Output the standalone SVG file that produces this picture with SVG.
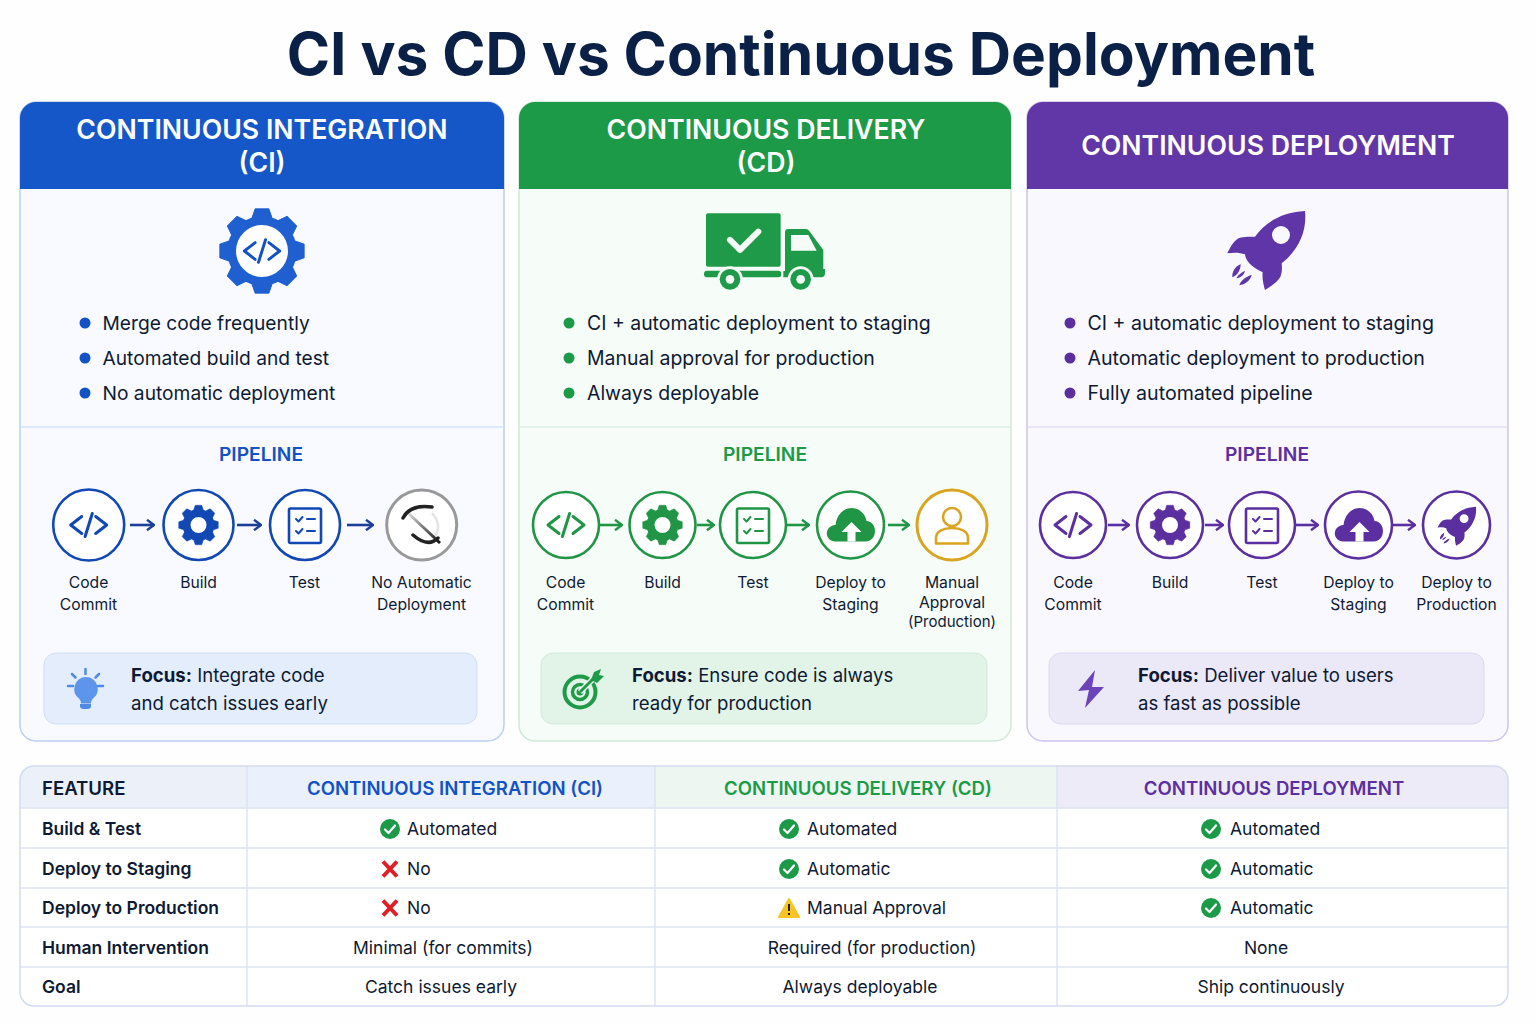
<svg xmlns="http://www.w3.org/2000/svg" width="1536" height="1024" viewBox="0 0 1536 1024">
<style>
text{font-family:Inter,"Liberation Sans",sans-serif;fill:#0e1a33}
.title{font-size:58.6px;font-weight:700;fill:#0b2046;text-anchor:middle}
.hd{font-size:26.7px;font-weight:600;fill:#fff;text-anchor:middle}
.bl1{font-size:19.2px}
.bl2{font-size:19.45px}
.bl3{font-size:19.6px}
.pl{font-size:19.2px;font-weight:600;text-anchor:middle}
.lb{font-size:15.7px;text-anchor:middle}
.fc{font-size:18.6px}
.fc tspan{font-weight:700}
.th{font-size:18.6px;font-weight:600}
.rh{font-size:17.5px;font-weight:600}
.td{font-size:17.5px}
.m{text-anchor:middle}
.ring{fill:#fff;stroke-width:2.6}
.blue{color:#1148b4}.green{color:#1f9545}.purple{color:#5b2f9f}
.ln{fill:none;stroke:currentColor;stroke-linecap:round;stroke-linejoin:round}
.cn line{stroke-width:2.6}
.rule{stroke:#dde3f0;stroke-width:1.5}
</style>
<defs>
<marker id="ab" viewBox="0 0 10 12" markerWidth="10" markerHeight="12" refX="9" refY="6" orient="auto" markerUnits="userSpaceOnUse"><path d="M2,0.8 L9,6 L2,11.2" fill="none" stroke="#1d3f9c" stroke-width="2.4"/></marker>
<marker id="ag" viewBox="0 0 10 12" markerWidth="10" markerHeight="12" refX="9" refY="6" orient="auto" markerUnits="userSpaceOnUse"><path d="M2,0.8 L9,6 L2,11.2" fill="none" stroke="#1f9545" stroke-width="2.4"/></marker>
<marker id="ap" viewBox="0 0 10 12" markerWidth="10" markerHeight="12" refX="9" refY="6" orient="auto" markerUnits="userSpaceOnUse"><path d="M2,0.8 L9,6 L2,11.2" fill="none" stroke="#5b2f9f" stroke-width="2.4"/></marker>
<g id="code" class="ln" stroke-width="3"><path d="M-7,-8.5 L-18,0 L-7,8.5 M7,-8.5 L18,0 L7,8.5 M3.6,-11.5 L-3.6,11.5"/></g>
<polygon id="tooth" points="-10.500,-33 -7,-43 7,-43 10.500,-33" fill="currentColor" stroke="currentColor" stroke-width="1" stroke-linejoin="round"/>
<g id="teeth"><use href="#tooth"/><use href="#tooth" transform="rotate(45)"/><use href="#tooth" transform="rotate(90)"/><use href="#tooth" transform="rotate(135)"/><use href="#tooth" transform="rotate(180)"/><use href="#tooth" transform="rotate(225)"/><use href="#tooth" transform="rotate(270)"/><use href="#tooth" transform="rotate(315)"/></g>
<g id="gearS"><use href="#teeth" transform="scale(.46)"/><circle r="12" fill="none" stroke="currentColor" stroke-width="8"/></g>
<g id="test"><rect x="-16" y="-16.5" width="32" height="34.500" rx="1.500" fill="none" stroke="currentColor" stroke-width="2.6"/><path class="ln" stroke-width="2" d="M-9,-6 L-6.500,-3.500 L-2.500,-8 M2,-6 H10 M-9,6 L-6.500,8.500 L-2.500,4 M2,6 H10"/></g>
<g id="cloud"><path fill="currentColor" d="M-15,16.500 C-26,16.500 -27,1 -15,0 C-14,-10 -7,-17 1,-17 C9,-17 15,-11 16,-4 C27,-4 28,16.500 15,16.500 Z"/><path fill="#fff" d="M1,-3 L11,7 H5 V16.500 H-3 V7 H-9 Z"/></g>
<g id="rocket"><path fill="currentColor" fill-rule="evenodd" d="M315,48 C240,52 195,85 165,125 C145,125 125,125 113,131 C98,142 90,158 82,175 C100,172 120,172 135,178 C137,195 150,215 188,232 C186,250 190,268 195,285 C215,272 238,258 243,240 C247,228 246,215 245,205 C290,170 322,115 315,48 Z M270,120 A27,27 0 1 0 216,120 A27,27 0 1 0 270,120 Z"/><g fill="currentColor"><path d="M122,208 C108,212 95,230 97,247 C110,242 122,228 122,208 Z M135,228 C124,232 112,242 110,250 C122,248 132,240 135,228 Z M155,240 C140,244 122,256 118,271 C135,268 150,258 155,240 Z"/></g></g>
<g id="ok"><circle r="10" fill="#1b9a48"/><path d="M-5,0.5 L-1.500,4 L5,-3.500" fill="none" stroke="#fff" stroke-width="2.2" stroke-linecap="round" stroke-linejoin="round"/></g>
<g id="no"><path d="M-7,-7.500 L7,7.500 M7,-7.500 L-7,7.500" stroke="#e01e26" stroke-width="4" fill="none"/></g>
<clipPath id="tc"><rect x="20" y="766" width="1488" height="240" rx="14"/></clipPath>
<linearGradient id="sl" x1="0" y1="0" x2="1" y2="1"><stop offset="0" stop-color="#ddd"/><stop offset="1" stop-color="#111"/></linearGradient>
</defs>
<rect width="1536" height="1024" fill="#fefefe"/>
<text id="title" class="title" x="801" y="75">CI vs CD vs Continuous Deployment</text>

<g id="panel-ci">
<rect x="20" y="102" width="484" height="639" rx="16" fill="#f8faff" stroke="#bccff1" stroke-width="1.500"/>
<path d="M20,189 V118 a16,16 0 0 1 16,-16 H488 a16,16 0 0 1 16,16 V189 Z" fill="#1557c8"/>
<text class="hd" x="262" y="139">CONTINUOUS INTEGRATION</text><text class="hd" x="262" y="172">(CI)</text>
<g style="color:#1f5fd0" transform="translate(262,251) scale(.98)"><use href="#teeth"/><circle r="31" fill="#fff" stroke="currentColor" stroke-width="9"/><use href="#code" style="color:#1252c4"/></g>
<g fill="#1252c4"><circle cx="85" cy="323" r="5.500"/><circle cx="85" cy="358" r="5.500"/><circle cx="85" cy="393" r="5.500"/></g>
<text class="bl1" x="102.500" y="330">Merge code frequently</text><text class="bl1" x="102.500" y="365">Automated build and test</text><text class="bl1" x="102.500" y="400">No automatic deployment</text>
<line x1="21" y1="427" x2="503" y2="427" stroke="#d5e2f6" stroke-width="1.500"/>
<text class="pl" x="261" y="461" style="fill:#1252c4">PIPELINE</text>
<rect x="44" y="653" width="433" height="71" rx="12" fill="#e3edfc" stroke="#cfdff7"/>
<g stroke="#4f8ae6" stroke-width="2.500" stroke-linecap="round"><path d="M85.500,669 V674 M72,674 L75.500,677.500 M99,674 L95.500,677.500 M68,686 H73 M98,686 H103"/></g>
<path d="M86,677 a12,12 0 0 1 7,21.500 q-2,2 -2,5 h-10 q0,-3 -2,-5 a12,12 0 0 1 7,-21.500 Z" fill="#5d95ea"/><path d="M80,704 h11 v3 q-1,2 -3,2 h-5 q-2,0 -3,-2 Z" fill="#4f8ae6"/>
<text class="fc" x="131" y="682"><tspan>Focus:</tspan> Integrate code</text><text class="fc" x="131" y="710">and catch issues early</text>
</g>

<g id="panel-cd">
<rect x="519" y="102" width="492" height="639" rx="16" fill="#f6fcf8" stroke="#cfe9d7" stroke-width="1.500"/>
<path d="M519,189 V118 a16,16 0 0 1 16,-16 H995 a16,16 0 0 1 16,16 V189 Z" fill="#1c9a47"/>
<text class="hd" x="766" y="139">CONTINUOUS DELIVERY</text><text class="hd" x="766" y="172">(CD)</text>
<g transform="translate(680,195) scale(.3333)">
<rect x="78" y="55" width="224" height="160" rx="6" fill="#1f9a49"/>
<path d="M150,135 L180,165 L235,110" fill="none" stroke="#f5fcf7" stroke-width="18" stroke-linecap="round" stroke-linejoin="round"/>
<path d="M315,112 q0,-10 10,-10 H378 q6,0 10,6 L430,165 V222 H435 V235 q0,12 -12,12 H310 V228 H315 Z" fill="#1f9a49"/>
<path d="M333,120 H385 L410,167 H333 Z" fill="#f5fcf7"/>
<rect x="72" y="227" width="232" height="20" rx="9" fill="#1f9a49"/>
<circle cx="150" cy="253" r="39" fill="#f5fcf7"/><circle cx="150" cy="253" r="31" fill="#1f9a49"/><circle cx="150" cy="253" r="13" fill="#f5fcf7"/>
<circle cx="362" cy="253" r="39" fill="#f5fcf7"/><circle cx="362" cy="253" r="31" fill="#1f9a49"/><circle cx="362" cy="253" r="13" fill="#f5fcf7"/>
</g>
<g fill="#1c9a47"><circle cx="569" cy="323" r="5.500"/><circle cx="569" cy="358" r="5.500"/><circle cx="569" cy="393" r="5.500"/></g>
<text class="bl2" x="587" y="330">CI + automatic deployment to staging</text><text class="bl2" x="587" y="365">Manual approval for production</text><text class="bl2" x="587" y="400">Always deployable</text>
<line x1="520" y1="427" x2="1010" y2="427" stroke="#dcefe2" stroke-width="1.500"/>
<text class="pl" x="765" y="461" style="fill:#1c9a47">PIPELINE</text>
<rect x="541" y="653" width="446" height="71" rx="12" fill="#e2f4e8" stroke="#d0ebd9"/>
<g fill="none" stroke="#1f9a49"><circle cx="580" cy="692" r="15.500" stroke-width="4"/><circle cx="580" cy="692" r="7.500" stroke-width="3.500"/></g><circle cx="580" cy="692" r="3.500" fill="#1f9a49"/>
<path d="M580,692 L598,674" stroke="#f0f9f2" stroke-width="6"/><path d="M580,692 L598,674" stroke="#1f9a49" stroke-width="3"/><path d="M594,672 L601,669 L599,675 L604,676 L597,683 L591,680 Z" fill="#1f9a49"/>
<text class="fc" x="632" y="682"><tspan>Focus:</tspan> Ensure code is always</text><text class="fc" x="632" y="710">ready for production</text>
</g>

<g id="panel-deploy">
<rect x="1027" y="102" width="481" height="639" rx="16" fill="#faf8ff" stroke="#cfc4ea" stroke-width="1.500"/>
<path d="M1027,189 V118 a16,16 0 0 1 16,-16 H1492 a16,16 0 0 1 16,16 V189 Z" fill="#6136a6"/>
<text class="hd" x="1268" y="155">CONTINUOUS DEPLOYMENT</text>
<use href="#rocket" style="color:#5f35a8" transform="translate(1200,195) scale(.3333)"/>
<g fill="#5b2f9f"><circle cx="1070" cy="323" r="5.500"/><circle cx="1070" cy="358" r="5.500"/><circle cx="1070" cy="393" r="5.500"/></g>
<text class="bl3" x="1087.500" y="330">CI + automatic deployment to staging</text><text class="bl3" x="1087.500" y="365">Automatic deployment to production</text><text class="bl3" x="1087.500" y="400">Fully automated pipeline</text>
<line x1="1028" y1="427" x2="1507" y2="427" stroke="#e3deF3" stroke-width="1.500"/>
<text class="pl" x="1267" y="461" style="fill:#5b2f9f">PIPELINE</text>
<rect x="1049" y="653" width="435" height="71" rx="12" fill="#ebe8f8" stroke="#ddd8f2"/>
<path d="M1095,670 L1078,691 L1089,690 L1085,708 L1104,687 L1092,687 Z" fill="#6a44b8"/>
<text class="fc" x="1138" y="682"><tspan>Focus:</tspan> Deliver value to users</text><text class="fc" x="1138" y="710">as fast as possible</text>
</g>

<g id="connectors" class="cn">
<g stroke="#1d3f9c"><line x1="130" y1="525" x2="154" y2="525" marker-end="url(#ab)"/><line x1="237" y1="525" x2="261" y2="525" marker-end="url(#ab)"/><line x1="347" y1="525" x2="373" y2="525" marker-end="url(#ab)"/></g>
<g stroke="#1f9545"><line x1="600" y1="525" x2="622" y2="525" marker-end="url(#ag)"/><line x1="697" y1="525" x2="714" y2="525" marker-end="url(#ag)"/><line x1="787" y1="525" x2="809" y2="525" marker-end="url(#ag)"/><line x1="888" y1="525" x2="909" y2="525" marker-end="url(#ag)"/></g>
<g stroke="#5b2f9f"><line x1="1108" y1="525" x2="1129" y2="525" marker-end="url(#ap)"/><line x1="1205" y1="525" x2="1223" y2="525" marker-end="url(#ap)"/><line x1="1296" y1="525" x2="1318" y2="525" marker-end="url(#ap)"/><line x1="1393" y1="525" x2="1415" y2="525" marker-end="url(#ap)"/></g>
</g>

<g id="ci-commit" class="blue"><circle class="ring" cx="88.700" cy="525" r="35.500" stroke="currentColor"/><use href="#code" x="88.700" y="525"/><text class="lb" x="88.500" y="588">Code</text><text class="lb" x="88.500" y="610">Commit</text></g>
<g id="ci-build" class="blue"><circle class="ring" cx="198.500" cy="525" r="35" stroke="currentColor"/><use href="#gearS" x="198.500" y="525"/><text class="lb" x="198.500" y="588">Build</text></g>
<g id="ci-test" class="blue"><circle class="ring" cx="305" cy="525" r="35" stroke="currentColor"/><use href="#test" x="305" y="525"/><text class="lb" x="304.500" y="588">Test</text></g>
<g id="ci-none"><circle class="ring" cx="421.700" cy="525" r="35" stroke="#999" style="stroke-width:3"/><path d="M432,513 Q443,525 434,538" fill="none" stroke="#e4e4e4" stroke-width="2.500"/><path d="M408,513 L440,543" stroke="url(#sl)" stroke-width="3" fill="none"/><path d="M403,518 Q410,504 432,507 M438,538 Q428,548 413,535" fill="none" stroke="#222" stroke-width="3.500" stroke-linecap="round"/><text class="lb" x="421.500" y="588">No Automatic</text><text class="lb" x="421.500" y="610">Deployment</text></g>

<g id="cd-commit" class="green"><circle class="ring" cx="566" cy="525" r="33" stroke="currentColor"/><use href="#code" x="566" y="525"/><text class="lb" x="565.500" y="588">Code</text><text class="lb" x="565.500" y="610">Commit</text></g>
<g id="cd-build" class="green"><circle class="ring" cx="662.500" cy="525" r="33" stroke="currentColor"/><use href="#gearS" x="662.500" y="525"/><text class="lb" x="662.500" y="588">Build</text></g>
<g id="cd-test" class="green"><circle class="ring" cx="753" cy="525" r="33" stroke="currentColor"/><use href="#test" x="753" y="525"/><text class="lb" x="753" y="588">Test</text></g>
<g id="cd-staging" class="green"><circle class="ring" cx="850.500" cy="525" r="33.500" stroke="currentColor"/><use href="#cloud" x="850.500" y="525"/><text class="lb" x="850.500" y="588">Deploy to</text><text class="lb" x="850.500" y="610">Staging</text></g>
<g id="cd-approval"><circle class="ring" cx="952" cy="525" r="35" stroke="#d9a520" style="stroke-width:3"/><circle cx="952" cy="517" r="9" fill="none" stroke="#d9a520" stroke-width="2.600"/><path d="M936,543.500 V538 C936,531 944,528 952,528 C960,528 968,531 968,538 V543.500 Z" fill="none" stroke="#d9a520" stroke-width="2.600" stroke-linejoin="round"/><text class="lb" x="952" y="588">Manual</text><text class="lb" x="952" y="608">Approval</text><text class="lb" x="952" y="627" style="font-size:15px">(Production)</text></g>

<g id="dp-commit" class="purple"><circle class="ring" cx="1073" cy="525" r="33" stroke="currentColor"/><use href="#code" x="1073" y="525"/><text class="lb" x="1073" y="588">Code</text><text class="lb" x="1073" y="610">Commit</text></g>
<g id="dp-build" class="purple"><circle class="ring" cx="1170" cy="525" r="33" stroke="currentColor"/><use href="#gearS" x="1170" y="525"/><text class="lb" x="1170" y="588">Build</text></g>
<g id="dp-test" class="purple"><circle class="ring" cx="1262" cy="525" r="33" stroke="currentColor"/><use href="#test" x="1262" y="525"/><text class="lb" x="1262" y="588">Test</text></g>
<g id="dp-staging" class="purple"><circle class="ring" cx="1358.500" cy="525" r="33.500" stroke="currentColor"/><use href="#cloud" x="1358.500" y="525"/><text class="lb" x="1358.500" y="588">Deploy to</text><text class="lb" x="1358.500" y="610">Staging</text></g>
<g id="dp-prod" class="purple"><circle class="ring" cx="1456.500" cy="525" r="33.500" stroke="currentColor"/><use href="#rocket" transform="translate(1424,498.800) scale(.165)"/><text class="lb" x="1456.500" y="588">Deploy to</text><text class="lb" x="1456.500" y="610">Production</text></g>

<g id="table">
<rect x="20" y="766" width="1488" height="240" rx="14" fill="#fff"/>
<g clip-path="url(#tc)"><rect x="20" y="766" width="227" height="42" fill="#ebf0f9"/><rect x="247" y="766" width="408" height="42" fill="#eaf1fc"/><rect x="655" y="766" width="402" height="42" fill="#edf6f1"/><rect x="1057" y="766" width="451" height="42" fill="#eeebf8"/></g>
<g class="rule"><line x1="20" y1="848" x2="1508" y2="848"/><line x1="20" y1="888" x2="1508" y2="888"/><line x1="20" y1="927" x2="1508" y2="927"/><line x1="20" y1="967" x2="1508" y2="967"/><line x1="20" y1="808" x2="1508" y2="808"/><line x1="247" y1="766" x2="247" y2="1006"/><line x1="655" y1="766" x2="655" y2="1006"/><line x1="1057" y1="766" x2="1057" y2="1006"/></g>
<rect x="20" y="766" width="1488" height="240" rx="14" fill="none" stroke="#d3dcee" stroke-width="1.500"/>
<text class="th" x="42" y="795">FEATURE</text>
<text class="th m" x="455" y="795" style="fill:#1252c4">CONTINUOUS INTEGRATION (CI)</text>
<text class="th m" x="858" y="795" style="fill:#1c9a47">CONTINUOUS DELIVERY (CD)</text>
<text class="th m" x="1274" y="795" style="fill:#5b2f9f">CONTINUOUS DEPLOYMENT</text>
<text class="rh" x="42" y="835">Build &amp; Test</text><text class="rh" x="42" y="875">Deploy to Staging</text><text class="rh" x="42" y="914">Deploy to Production</text><text class="rh" x="42" y="954">Human Intervention</text><text class="rh" x="42" y="993">Goal</text>
<use href="#ok" x="390" y="829"/><text class="td" x="407" y="835">Automated</text>
<use href="#no" x="390" y="869"/><text class="td" x="407" y="875">No</text>
<use href="#no" x="390" y="908"/><text class="td" x="407" y="914">No</text>
<text class="td m" x="443" y="954">Minimal (for commits)</text><text class="td m" x="441" y="993">Catch issues early</text>
<use href="#ok" x="789" y="829"/><text class="td" x="807" y="835">Automated</text>
<use href="#ok" x="789" y="869"/><text class="td" x="807" y="875">Automatic</text>
<path d="M789,899 L799,917 H779 Z" fill="#f7c325" stroke="#f7c325" stroke-width="2" stroke-linejoin="round"/><path d="M789,904 V911 M789,913 V915" stroke="#222" stroke-width="2"/><text class="td" x="807" y="914">Manual Approval</text>
<text class="td m" x="872" y="954">Required (for production)</text><text class="td m" x="860" y="993">Always deployable</text>
<use href="#ok" x="1211" y="829"/><text class="td" x="1230" y="835">Automated</text>
<use href="#ok" x="1211" y="869"/><text class="td" x="1230" y="875">Automatic</text>
<use href="#ok" x="1211" y="908"/><text class="td" x="1230" y="914">Automatic</text>
<text class="td m" x="1266" y="954">None</text><text class="td m" x="1271" y="993">Ship continuously</text>
</g>
</svg>
